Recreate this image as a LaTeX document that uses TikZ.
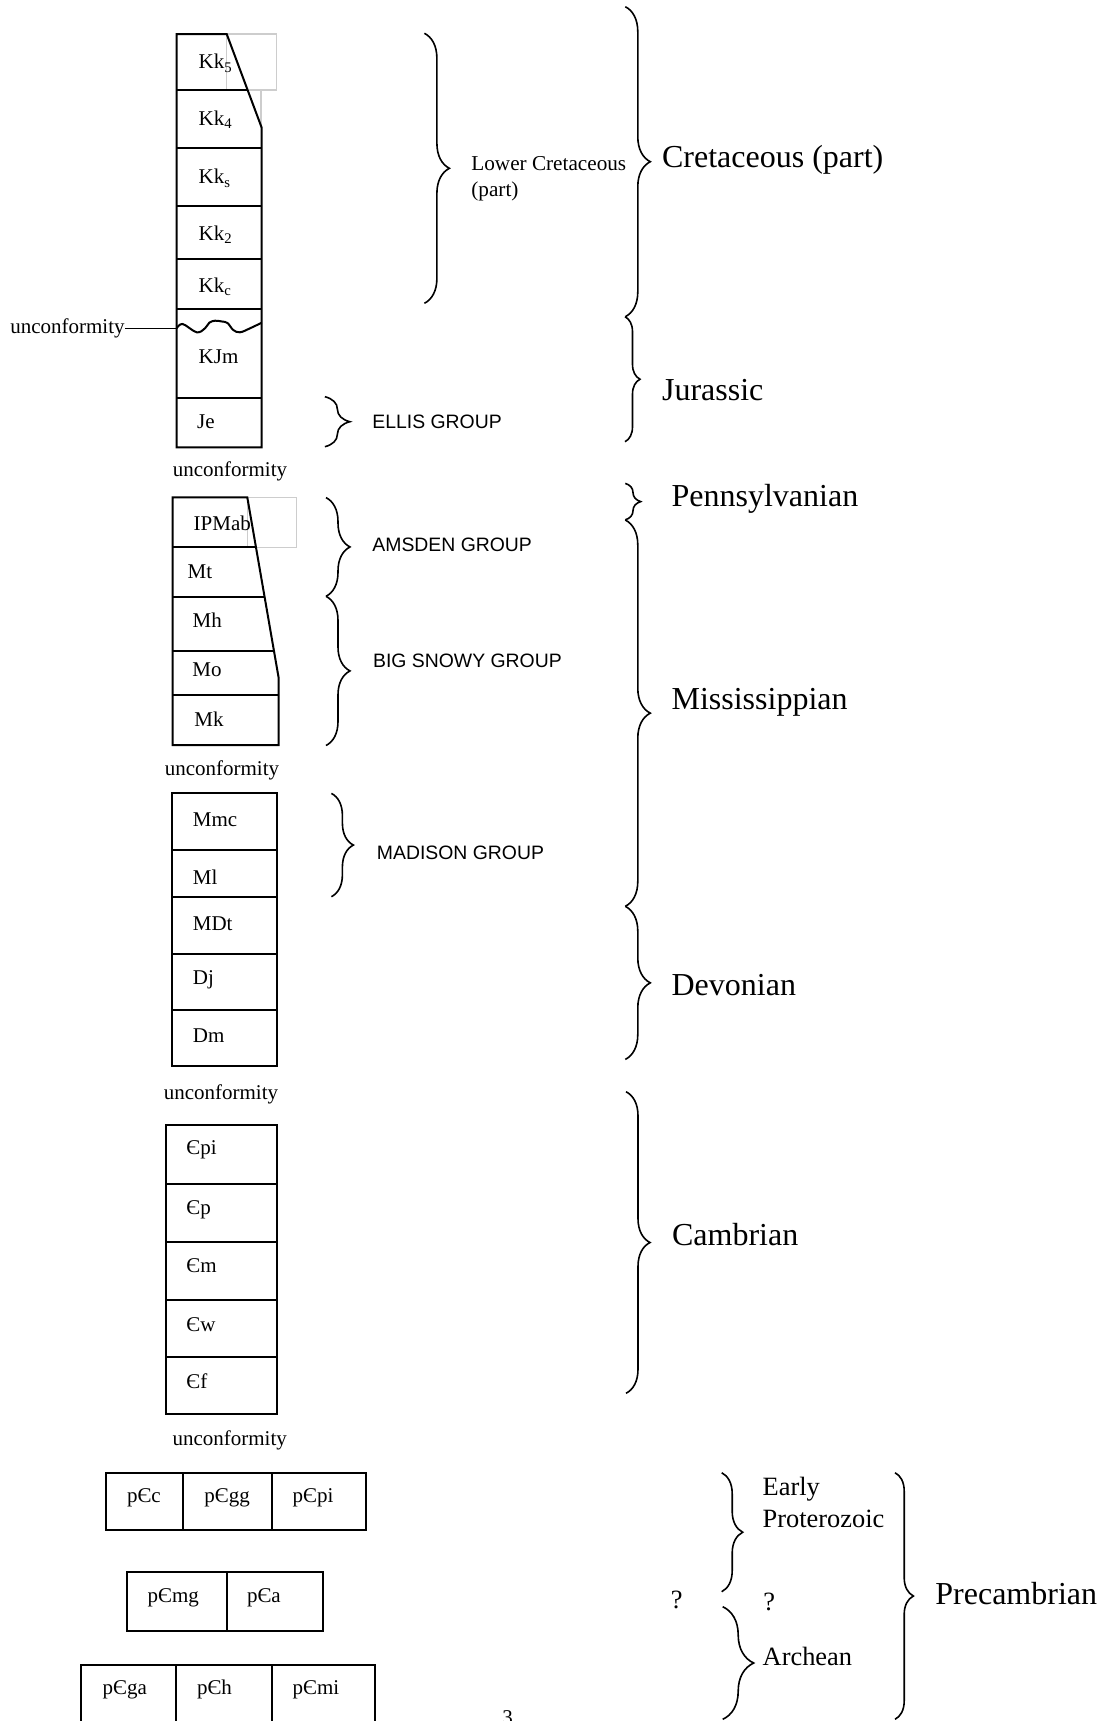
\documentclass[tikz,border=0pt]{standalone}
\usepackage{fontspec}
\setmainfont{Liberation Serif}
\setsansfont{Liberation Sans}
\usepackage{tikz}
\usetikzlibrary{positioning, decorations.pathreplacing}
\definecolor{FrameGray}{RGB}{205,205,205}
\tikzset{
  bed/.style={draw=black, line width=1pt},
  ghost/.style={draw=FrameGray, line width=0.6pt},
  leader/.style={draw=black, line width=0.8pt},
  bedlab/.style={anchor=west, inner sep=0pt, font=\fontsize{10.5}{12}\selectfont},
  unclab/.style={inner sep=0pt, font=\fontsize{10.5}{12}\selectfont},
  grouplab/.style={anchor=west, inner sep=0pt, font=\sffamily\fontsize{9.7}{11}\selectfont},
  periodlab/.style={anchor=west, inner sep=0pt, font=\fontsize{16}{18}\selectfont},
  eralab/.style={anchor=west, inner sep=0pt, align=left, font=\fontsize{13.2}{15.8}\selectfont},
  sublab/.style={anchor=west, inner sep=0pt, align=left, font=\fontsize{10.6}{13}\selectfont},
  rbrace/.style={decorate, line width=0.8pt, decoration={brace, amplitude=#1}},
}

\begin{document}
\begin{tikzpicture}[x=0.5pt, y=-0.5pt]
  \useasboundingbox (0,0) rectangle (1111,1721);

  \draw[ghost] (226.7,34) rectangle (276.7,90);
  \draw[ghost] (261,90) -- (261,127.7);
  \draw[bed] (226.7,34) -- (176.7,34) -- (176.7,447.3) -- (261.7,447.3) -- (261.7,127.7) -- cycle;
  \draw[bed] (176.7,90) -- (247.6,90);
  \foreach \y in {147.7,205.7,259,309,397.7}
    \draw[bed] (176.7,\y) -- (261.7,\y);
  \draw[bed] plot[smooth, tension=0.6] coordinates {(176.7,328.3) (182.7,324) (196.7,332.3) (205,328.3)
    (209.3,322.7) (215,320.7) (222,321.5) (227.5,323) (233.3,330) (240,332.3) (250,328.3) (261.7,322.7)};
  \foreach \nm/\x/\y/\lab in {kk5/198.3/63.3/Kk\textsubscript{5}, kk4/198.3/120/Kk\textsubscript{4},
      kks/198.3/178.3/Kk\textsubscript{s}, kk2/198.3/235/Kk\textsubscript{2}, kkc/198.3/286.7/Kk\textsubscript{c},
      kjm/198.3/356.7/KJm, je/196.7/421.7/Je}
    \node[bedlab] (\nm) at (\x,\y) {\lab};
  \node[unclab, anchor=east] (unc0) at (125,328.3) {unconformity};
  \coordinate (waveL) at (176.7,328.3);
  \draw[leader] (unc0.east) -- (waveL);
  \node[unclab] (unc1) at (230,471.7) {unconformity};

  \draw[ghost] (247.3,497.3) rectangle (296.7,547.3);
  \draw[bed] (247.3,497.3) -- (172.7,497.3) -- (172.7,745) -- (278.5,745) -- (278.5,677) -- cycle;
  \foreach \y/\xe in {547.3/256, 597/264.6, 651/274, 695.3/278.5}
    \draw[bed] (172.7,\y) -- (\xe,\y);
  \foreach \nm/\x/\y/\lab in {ipmab/193.3/523/IPMab, mt/187.3/571.7/Mt, mh/192.3/620/Mh,
      mo/192/670/Mo, mk/194/719/Mk}
    \node[bedlab] (\nm) at (\x,\y) {\lab};
  \node[unclab] (unc2) at (222,770) {unconformity};

  \draw[bed] (172.3,793.3) rectangle (276.7,1066);
  \foreach \y in {850,897.3,954,1010}
    \draw[bed] (172.3,\y) -- (276.7,\y);
  \foreach \nm/\y/\lab in {mmc/819.3/Mmc, ml/876.7/Ml, mdt/923.3/MDt, dj/980/Dj, dm/1036/Dm}
    \node[bedlab] (\nm) at (192.5,\y) {\lab};
  \node[unclab] (unc3) at (221,1094) {unconformity};

  \draw[bed] (166,1125) rectangle (277.3,1414.3);
  \foreach \y in {1184.3,1242.3,1300,1357.3}
    \draw[bed] (166,\y) -- (277.3,\y);
  \foreach \nm/\y/\lab in {cpi/1150/Єpi, cp/1209.3/Єp, cm/1266/Єm, cw/1324.3/Єw, cf/1381/Єf}
    \node[bedlab] (\nm) at (186,\y) {\lab};
  \node[unclab] (unc4) at (229.7,1440) {unconformity};

  \draw[bed] (106,1472.7) rectangle (366,1530);
  \draw[bed] (183.3,1472.7) -- (183.3,1530) (272,1472.7) -- (272,1530);
  \draw[bed] (126.7,1572.3) rectangle (323.3,1630.7);
  \draw[bed] (226.7,1572.3) -- (226.7,1630.7);
  \draw[bed] (81.3,1740) -- (81.3,1665) -- (375.3,1665) -- (375.3,1740);
  \draw[bed] (176,1665) -- (176,1740) (272,1665) -- (272,1740);
  \foreach \nm/\x/\y/\lab in {pcc/126.7/1497.7/pЄc, pcgg/204/1497.7/pЄgg, pcpi/292.3/1497.7/pЄpi,
      pcmg/147.3/1597.3/pЄmg, pca/246.7/1597.3/pЄa,
      pcga/102.3/1689.3/pЄga, pch/196.7/1689.3/pЄh, pcmi/292.3/1689.3/pЄmi}
    \node[bedlab] (\nm) at (\x,\y) {\lab};

  \foreach \x/\ya/\yb/\amp in {424.4/33.3/303.3/12.5, 625.3/6.7/316.7/12.5, 625/316.7/441.7/7.5,
      324.9/396.7/446.7/12.5, 625.3/483.4/519.8/7.7, 326/497.6/596.3/12, 326/596.3/745.5/12,
      331.4/793.4/896.7/11, 625.3/520/906.3/12.5, 625.3/906.3/1059.4/12.5, 626/1091.7/1393.3/12,
      721.7/1472.7/1591.7/10.5, 722.7/1606.7/1719.3/15.5, 895/1472.7/1719.3/9.2}
    \draw[rbrace=\amp pt] (\x,\ya) -- (\x,\yb);

  \node[sublab] (lowcret) at (471,178.7) {Lower Cretaceous\\(part)};
  \node[grouplab] (ellis) at (372,421.7) {ELLIS GROUP};
  \node[grouplab] (amsden) at (372,544.6) {AMSDEN GROUP};
  \node[grouplab] (bigsnowy) at (372.7,661.3) {BIG SNOWY GROUP};
  \node[grouplab] (madison) at (376.5,852.7) {MADISON GROUP};

  \node[periodlab] (cret) at (661.7,160) {Cretaceous (part)};
  \node[periodlab] (jur) at (661.7,390) {Jurassic};
  \node[periodlab] (penn) at (671.2,498.7) {Pennsylvanian};
  \node[periodlab] (miss) at (671.2,702.7) {Mississippian};
  \node[periodlab] (dev) at (671.2,984.7) {Devonian};
  \node[periodlab] (camb) at (671.7,1235) {Cambrian};
  \node[periodlab] (precamb) at (935,1593.3) {Precambrian};

  \node[eralab] (earlyprot) at (762.3,1502.5) {Early\\Proterozoic};
  \node[eralab] (archean) at (762.3,1656.7) {Archean};
  \node[eralab, anchor=center] (qleft) at (676.7,1600) {?};
  \node[eralab, anchor=center] (qmid) at (769.3,1601.7) {?};

  \node[unclab, anchor=base] (pagenum) at (507.5,1724) {3};
\end{tikzpicture}
\end{document}
